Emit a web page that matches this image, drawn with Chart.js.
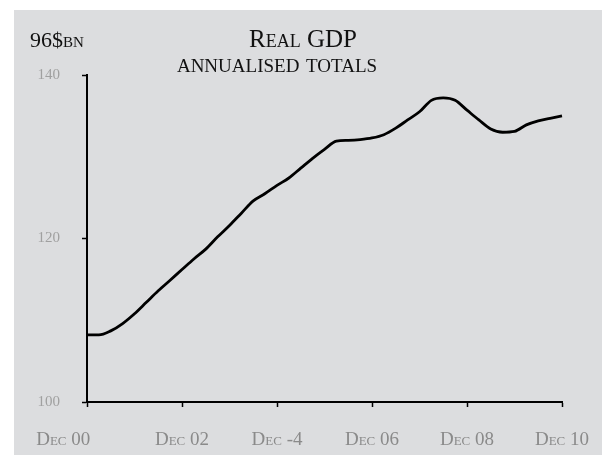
<!DOCTYPE html>
<html>
<head>
<meta charset="utf-8">
<script src="https://cdn.jsdelivr.net/npm/chart.js@4/dist/chart.umd.min.js"></script>
<style>
  body { margin: 0; background: #fff; }
  #wrap { position: absolute; left: 14px; top: 10px; width: 588px; height: 445px; background: #dcdddf; }
</style>
</head>
<body>
<div id="wrap"><canvas id="gdp" width="588" height="445"></canvas></div>
<script>
var quarters = [
  'Dec 00', 'Mar 01', 'Jun 01', 'Sep 01', 'Dec 01', 'Mar 02', 'Jun 02', 'Sep 02',
  'Dec 02', 'Mar 03', 'Jun 03', 'Sep 03', 'Dec 03', 'Mar 04', 'Jun 04', 'Sep 04',
  'Dec 04', 'Mar 05', 'Jun 05', 'Sep 05', 'Dec 05', 'Mar 06', 'Jun 06', 'Sep 06',
  'Dec 06', 'Mar 07', 'Jun 07', 'Sep 07', 'Dec 07', 'Mar 08', 'Jun 08', 'Sep 08',
  'Dec 08', 'Mar 09', 'Jun 09', 'Sep 09', 'Dec 09', 'Mar 10', 'Jun 10', 'Sep 10',
  'Dec 10'
];

var gdp = [
  108.2, 108.2, 108.7, 109.6, 110.8, 112.2, 113.6, 114.9,
  116.2, 117.5, 118.7, 120.2, 121.6, 123.1, 124.6, 125.5,
  126.5, 127.4, 128.6, 129.8, 130.9, 131.9, 132.0, 132.1,
  132.3, 132.7, 133.5, 134.5, 135.5, 136.9, 137.2, 136.9,
  135.7, 134.5, 133.4, 133.0, 133.1, 133.9, 134.4, 134.7,
  135.0
];

// shown every 8th quarter (labels as printed on the original)
var tickLabels = ['Dec 00', 'Dec 02', 'Dec -4', 'Dec 06', 'Dec 08', 'Dec 10'];

var serif = "'Liberation Serif', 'DejaVu Serif', serif";

var headerText = {
  id: 'headerText',
  afterDraw: function(chart) {
    var c = chart.ctx;
    c.save();
    c.fillStyle = '#111';
    c.textBaseline = 'alphabetic';
    c.font = 'small-caps 22px ' + serif;
    c.textAlign = 'left';
    c.fillText('96$bn', 16, 37);
    c.font = 'small-caps 25px ' + serif;
    c.textAlign = 'center';
    c.fillText('Real GDP', 289, 37);
    c.font = 'small-caps 27px ' + serif;
    c.fillText('annualised totals', 263, 62);
    c.restore();
  }
};

var ctx = document.getElementById('gdp').getContext('2d');
var chart = new Chart(ctx, {
  type: 'line',
  data: {
    labels: quarters,
    datasets: [{
      label: 'Real GDP',
      data: gdp,
      borderColor: '#000',
      borderWidth: 2.8,
      pointRadius: 0,
      cubicInterpolationMode: 'monotone',
      fill: false
    }]
  },
  options: {
    responsive: false,
    animation: false,
    layout: { padding: { top: 65, right: 40, bottom: 0, left: 0 } },
    plugins: {
      legend: { display: false },
      title: { display: false },
      tooltip: { enabled: false }
    },
    scales: {
      x: {
        grid: {
          drawOnChartArea: false,
          tickLength: 5,
          tickWidth: 1.5,
          tickColor: function(c) { return c.index % 8 === 0 ? '#000' : 'rgba(0,0,0,0)'; }
        },
        border: { color: '#000', width: 2 },
        ticks: {
          autoSkip: false,
          maxRotation: 0,
          padding: 22,
          color: '#8a8a8a',
          font: { family: serif, size: 19, weight: 'small-caps' },
          callback: function(v, i) {
            if (i % 8 !== 0) return '';
            // first label sits left of its tick in the original
            return i === 0 ? tickLabels[0] + '\u2003\u2003\u2002' : tickLabels[i / 8];
          }
        },
        afterFit: function(s) { s.height = 53; s.paddingLeft = 0; s.paddingRight = 0; }
      },
      y: {
        min: 100,
        max: 140,
        grid: { drawOnChartArea: false, tickLength: 5, tickWidth: 1.5, tickColor: '#000' },
        border: { color: '#000', width: 2 },
        ticks: {
          stepSize: 20,
          padding: 22,
          color: '#a0a0a0',
          font: { family: serif, size: 15 }
        },
        afterFit: function(s) { s.width = 73; s.paddingTop = 0; s.paddingBottom = 0; }
      }
    }
  },
  plugins: [headerText]
});
</script>
</body>
</html>
